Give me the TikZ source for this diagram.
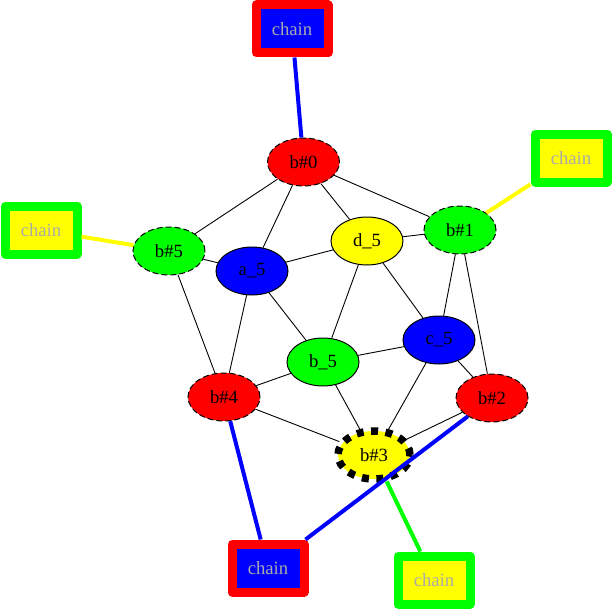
\documentclass[tikz,border=0pt]{standalone}
\usepackage{fontspec}
\newfontfamily\gvfont{Liberation Serif}
\usetikzlibrary{shapes.geometric}
\definecolor{chaingray}{RGB}{170,170,170}
\definecolor{pblue}{RGB}{0,0,255}
\definecolor{pred}{RGB}{255,0,0}
\definecolor{pgreen}{RGB}{0,255,0}
\definecolor{pyellow}{RGB}{255,255,0}
\tikzset{
  ell/.style={ellipse, draw=black, line width=1pt, minimum width=72pt, minimum height=48pt, inner sep=0pt, font=\gvfont\fontsize{18.67}{20}\selectfont},
  bdash/.style={ell, dash pattern=on 6pt off 3pt},
  bthick/.style={ell, line width=7.5pt, dash pattern=on 7pt off 7.5pt},
  chainbox/.style={rectangle, line width=9pt, line join=round, minimum width=72pt, minimum height=48pt, inner sep=0pt, text=chaingray, font=\gvfont\fontsize{18.67}{20}\selectfont},
  edge/.style={draw=black, line width=0.9pt},
  cedge/.style={line width=4pt},
}
\begin{document}
\begin{tikzpicture}[x=1pt,y=-1pt]
\useasboundingbox (0,0) rectangle (613,610);
% nodes
\node[bdash, fill=pred] (b0) at (303.5,162) {b\#0};
\node[bdash, fill=pgreen] (b1) at (460,230) {b\#1};
\node[bdash, fill=pred] (b2) at (492,398) {b\#2};
\node[bthick, fill=pyellow] (b3) at (374,455) {b\#3};
\node[bdash, fill=pred] (b4) at (224,397) {b\#4};
\node[bdash, fill=pgreen] (b5) at (169,251) {b\#5};
\node[ell, fill=pblue] (a5) at (252,271) {a\_5};
\node[ell, fill=pgreen] (bb5) at (323,362) {b\_5};
\node[ell, fill=pblue] (c5) at (439,340) {c\_5};
\node[ell, fill=pyellow] (d5) at (367,241) {d\_5};
\node[chainbox, draw=pred, fill=pblue] (ch0) at (292,29) {chain};
\node[chainbox, draw=pgreen, fill=pyellow] (ch1) at (571,158) {chain};
\node[chainbox, draw=pgreen, fill=pyellow] (ch5) at (41,230) {chain};
\node[chainbox, draw=pred, fill=pblue] (ch4) at (268,568) {chain};
\node[chainbox, draw=pgreen, fill=pyellow] (ch3) at (434,580) {chain};
% black edges
\draw[edge] (b0) -- (b5);
\draw[edge] (b0) -- (a5);
\draw[edge] (b0) -- (d5);
\draw[edge] (b0) -- (b1);
\draw[edge] (b5) -- (a5);
\draw[edge] (b5) -- (b4);
\draw[edge] (a5) -- (d5);
\draw[edge] (a5) -- (bb5);
\draw[edge] (a5) -- (b4);
\draw[edge] (d5) -- (b1);
\draw[edge] (d5) -- (bb5);
\draw[edge] (d5) -- (c5);
\draw[edge] (b1) -- (c5);
\draw[edge] (b1) -- (b2);
\draw[edge] (c5) -- (bb5);
\draw[edge] (c5) -- (b3);
\draw[edge] (c5) -- (b2);
\draw[edge] (bb5) -- (b4);
\draw[edge] (bb5) -- (b3);
\draw[edge] (b4) -- (b3);
\draw[edge] (b2) -- (b3);
% chain edges
\draw[cedge, pblue] (ch0) -- (b0);
\draw[cedge, pyellow] (ch1) -- (b1);
\draw[cedge, pyellow] (ch5) -- (b5);
\draw[cedge, pblue] (ch4) -- (b4);
\draw[cedge, pblue] (ch4) -- (b2);
\draw[cedge, pgreen] (ch3) -- (b3);
\end{tikzpicture}
\end{document}
